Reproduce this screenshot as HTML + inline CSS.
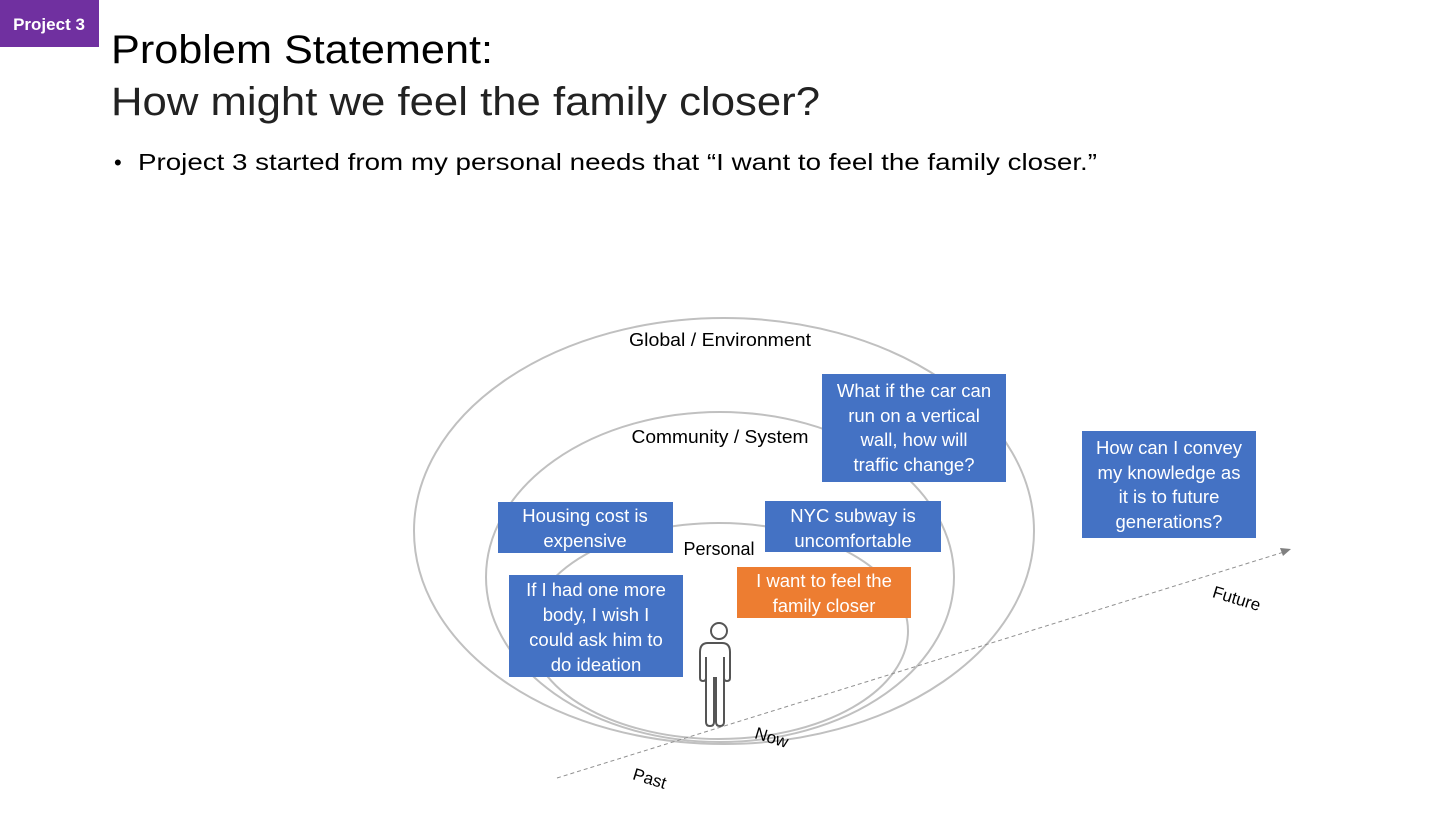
<!DOCTYPE html>
<html><head><meta charset="utf-8"><style>
body{margin:0;width:1440px;height:810px;background:#fff;overflow:hidden;font-family:"Liberation Sans",sans-serif;}
</style></head><body>
<svg width="1440" height="810" xmlns="http://www.w3.org/2000/svg" font-family="Liberation Sans, sans-serif">
<rect x="0" y="0" width="99" height="47" fill="#7030a0"/>
<text x="49" y="30" font-size="17" font-weight="bold" fill="#fff" text-anchor="middle">Project 3</text>
<text x="111" y="63" font-size="40" fill="#000" textLength="382" lengthAdjust="spacingAndGlyphs">Problem Statement:</text>
<text x="111" y="115" font-size="40" fill="#222" textLength="709" lengthAdjust="spacingAndGlyphs">How might we feel the family closer?</text>
<text x="114" y="170" font-size="22" fill="#000">•</text>
<text x="138" y="170" font-size="23" fill="#000" textLength="959" lengthAdjust="spacingAndGlyphs">Project 3 started from my personal needs that “I want to feel the family closer.”</text>
<g fill="none" stroke="#c0c0c0" stroke-width="2">
<ellipse cx="724" cy="531" rx="310" ry="213"/>
<ellipse cx="720" cy="577" rx="234" ry="165"/>
<ellipse cx="719" cy="631" rx="189" ry="108"/>
</g>
<line x1="557" y1="778" x2="1284" y2="552" stroke="#909090" stroke-width="1" stroke-dasharray="4,3"/>
<polygon points="1291,549 1280,548 1283,556" fill="#808080"/>
<text x="720" y="346" font-size="18" text-anchor="middle" textLength="182" lengthAdjust="spacingAndGlyphs">Global / Environment</text>
<text x="720" y="443" font-size="18" text-anchor="middle" textLength="177" lengthAdjust="spacingAndGlyphs">Community / System</text>
<text x="719" y="555" font-size="18" text-anchor="middle">Personal</text>
<text x="770" y="743" font-size="17" transform="rotate(17 770 743)" text-anchor="middle">Now</text>
<text x="648" y="784" font-size="17" transform="rotate(17 648 784)" text-anchor="middle">Past</text>
<text x="1235" y="604" font-size="17" transform="rotate(17 1235 604)" text-anchor="middle">Future</text>
<g font-size="18.5" fill="#fff" text-anchor="middle">
<rect x="822" y="374" width="184" height="108" fill="#4472c4"/>
<text x="914" y="397">What if the car can</text><text x="914" y="422">run on a vertical</text><text x="914" y="446">wall, how will</text><text x="914" y="471">traffic change?</text>
<rect x="1082" y="431" width="174" height="107" fill="#4472c4"/>
<text x="1169" y="454">How can I convey</text><text x="1169" y="479">my knowledge as</text><text x="1169" y="503">it is to future</text><text x="1169" y="528">generations?</text>
<rect x="498" y="502" width="175" height="51" fill="#4472c4"/>
<text x="585" y="522">Housing cost is</text><text x="585" y="547">expensive</text>
<rect x="765" y="501" width="176" height="51" fill="#4472c4"/>
<text x="853" y="522">NYC subway is</text><text x="853" y="547">uncomfortable</text>
<rect x="737" y="567" width="174" height="51" fill="#ed7d31"/>
<text x="824" y="587">I want to feel the</text><text x="824" y="612">family closer</text>
<rect x="509" y="575" width="174" height="102" fill="#4472c4"/>
<text x="596" y="596">If I had one more</text><text x="596" y="621">body, I wish I</text><text x="596" y="646">could ask him to</text><text x="596" y="671">do ideation</text>
</g>
<g fill="none" stroke="#555" stroke-width="2">
<circle cx="719" cy="631" r="8"/>
<path d="M708 643 Q700 643 700 652 L700 678 Q700 681 703 681 Q706 681 706 678 L706 657 L706 722 Q706 726 710 726 Q714 726 714 722 L714 678 L716 678 L716 722 Q716 726 720 726 Q724 726 724 722 L724 657 L724 678 Q724 681 727 681 Q730 681 730 678 L730 652 Q730 643 722 643 Z"/>
</g>
</svg>
</body></html>
